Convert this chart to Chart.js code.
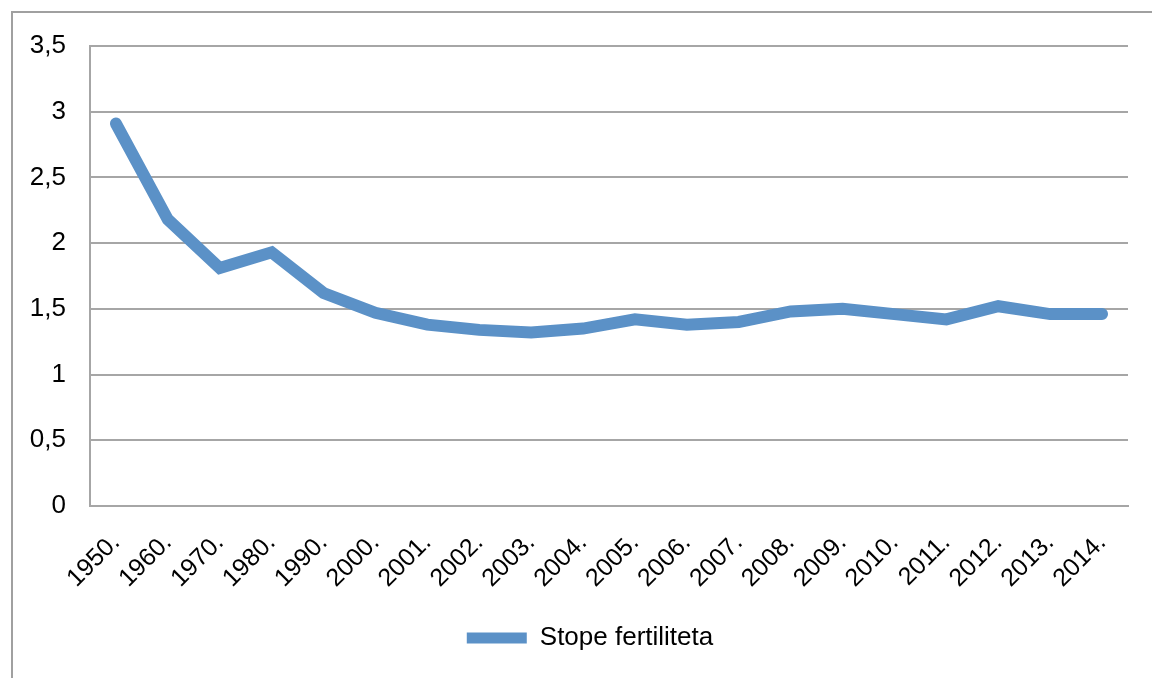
<!DOCTYPE html>
<html>
<head>
<meta charset="utf-8">
<script src="https://cdn.jsdelivr.net/npm/chart.js@4"></script>
<style>
    html, body { margin: 0; padding: 0; background: #fff; }
    #wrap { position: relative; width: 1152px; height: 678px; overflow: hidden; }
    #frame {
        position: absolute; left: 11px; top: 11px; width: 1400px; height: 900px;
        border-left: 2px solid #a0a0a0; border-top: 2px solid #a0a0a0;
    }
    #myChart { position: absolute; left: 0; top: 0; }
</style>
</head>
<body>
<div id="wrap">
    <div id="frame"></div>
    <canvas id="myChart" width="1152" height="678"></canvas>
</div>
<script>
const years = ['1950.', '1960.', '1970.', '1980.', '1990.', '2000.', '2001.', '2002.', '2003.', '2004.',
    '2005.', '2006.', '2007.', '2008.', '2009.', '2010.', '2011.', '2012.', '2013.', '2014.'];
const fertility = [2.91, 2.18, 1.81, 1.93, 1.62, 1.47, 1.38, 1.34, 1.32, 1.35,
    1.42, 1.38, 1.40, 1.48, 1.50, 1.46, 1.42, 1.52, 1.46, 1.46];
const seriesName = 'Stope fertiliteta';

const lineColor = '#5b91c7';
const gridColor = '#a6a6a6';

// legend sits a bit right of centre in the original
const legendShift = {
    id: 'legendShift',
    afterLayout(chart) {
        if (chart.legend) {
            chart.legend.left += 26;
            chart.legend.right += 26;
        }
    }
};

document.addEventListener('DOMContentLoaded', () => {
    if (typeof Chart === 'undefined') {
        console.error('Chart.js is not loaded');
        return;
    }
    Chart.defaults.font.family = '"Liberation Sans", Arial, sans-serif';
    Chart.defaults.color = '#000';

    const ctx = document.getElementById('myChart').getContext('2d');
    new Chart(ctx, {
        type: 'line',
        data: {
            labels: years,
            datasets: [{
                label: seriesName,
                data: fertility,
                borderColor: lineColor,
                backgroundColor: lineColor,
                borderWidth: 12,
                borderCapStyle: 'round',
                pointRadius: 0,
                tension: 0
            }]
        },
        plugins: [legendShift],
        options: {
            responsive: false,
            animation: false,
            layout: { padding: { left: 0, right: 24, top: 46, bottom: 17 } },
            plugins: {
                tooltip: { enabled: false },
                legend: {
                    position: 'bottom',
                    labels: {
                        font: { size: 26 },
                        boxWidth: 60,
                        boxHeight: 11,
                        padding: 10,
                        useBorderRadius: true,
                        borderRadius: 5,
                        generateLabels: chart => [{
                            text: seriesName,
                            fillStyle: lineColor,
                            strokeStyle: lineColor,
                            lineWidth: 0,
                            datasetIndex: 0
                        }]
                    }
                }
            },
            scales: {
                x: {
                    offset: true,
                    afterFit: scale => { scale.height = 109; },
                    grid: { display: false },
                    border: { display: true, color: gridColor, width: 2 },
                    ticks: {
                        autoSkip: false,
                        minRotation: 45,
                        maxRotation: 45,
                        padding: 14,
                        font: { size: 25 }
                    }
                },
                y: {
                    min: 0,
                    max: 3.5,
                    afterFit: scale => { scale.width = 90; },
                    grid: { color: gridColor, lineWidth: 2, drawTicks: false },
                    border: { display: true, color: gridColor, width: 2 },
                    ticks: {
                        stepSize: 0.5,
                        padding: 24,
                        font: { size: 26 },
                        callback: v => String(v).replace('.', ',')
                    }
                }
            }
        }
    });
});
</script>
</body>
</html>
